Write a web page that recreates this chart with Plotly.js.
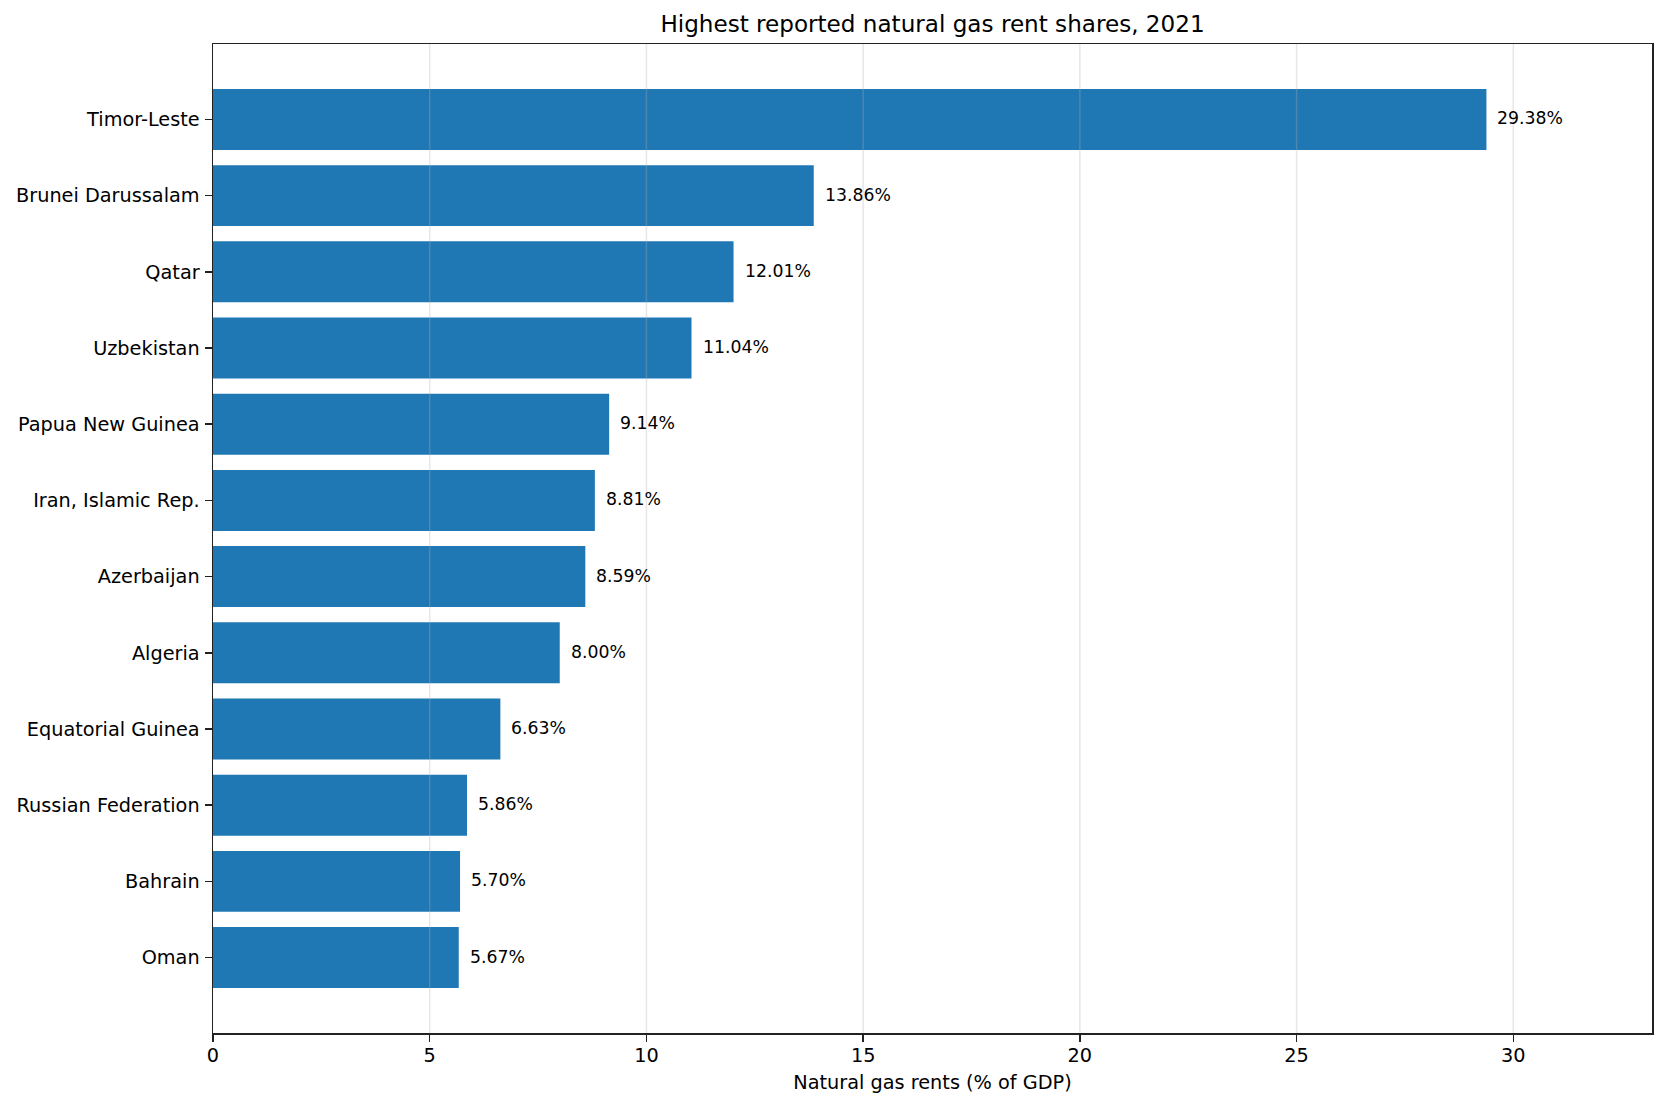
<!DOCTYPE html>
<html>
<head>
<meta charset="utf-8">
<script src="https://cdn.plot.ly/plotly-3.0.1.min.js"></script>
<style>
  html, body { margin: 0; padding: 0; background: #fff; }
  #chart { width: 1665px; height: 1106px; }
</style>
</head>
<body>
<div id="chart"></div>
<script>
'use strict';

// Countries, top to bottom
var countries = ['Timor-Leste', 'Brunei Darussalam', 'Qatar', 'Uzbekistan',
    'Papua New Guinea', 'Iran, Islamic Rep.', 'Azerbaijan', 'Algeria',
    'Equatorial Guinea', 'Russian Federation', 'Bahrain', 'Oman'];
var rents = [29.38, 13.86, 12.01, 11.04, 9.14, 8.81, 8.59, 8.00, 6.63, 5.86, 5.70, 5.67];
var xTicks = [0, 5, 10, 15, 20, 25, 30];

var font = 'DejaVu Sans, sans-serif';

var traces = [{
    type: 'bar',
    orientation: 'h',
    x: rents,
    y: countries,
    width: 0.8,
    marker: { color: '#1f77b4', line: { width: 0 } },
    hoverinfo: 'none'
}];

// value labels just right of each bar
var annotations = rents.map(function (v, i) {
    return {
        x: v, y: countries[i], xref: 'x', yref: 'y',
        text: v.toFixed(2) + '%',
        showarrow: false, xanchor: 'left', xshift: 9, yshift: 1,
        font: { family: font, size: 17.3, color: '#000' }
    };
});

// grid drawn over the bars, like matplotlib's default
var shapes = xTicks.slice(1).map(function (t) {
    return {
        type: 'line', xref: 'x', yref: 'paper', x0: t, x1: t, y0: 0, y1: 1,
        layer: 'above', line: { color: 'rgba(176,176,176,0.3)', width: 1.5 }
    };
});

Plotly.newPlot('chart', traces, {
    width: 1665,
    height: 1106,
    paper_bgcolor: '#fff',
    plot_bgcolor: '#fff',
    font: { family: font, size: 19.3, color: '#000' },
    title: {
        text: 'Highest reported natural gas rent shares, 2021',
        font: { family: font, size: 23.1, color: '#000' },
        x: 0.5, xref: 'paper', xanchor: 'center',
        y: 1 - 24 / 1106, yanchor: 'middle'
    },
    margin: { l: 213, r: 13, t: 44, b: 73 },
    bargap: 0.2,
    showlegend: false,
    xaxis: {
        range: [0, 33.2],
        tickvals: xTicks,
        ticks: 'outside', ticklen: 7, tickwidth: 1.5, tickcolor: '#222',
        showgrid: false,
        zeroline: false,
        showline: true, mirror: true, linecolor: '#222', linewidth: 1.5,
        tickfont: { family: font, size: 19.3, color: '#000' },
        ticklabelstandoff: -3,
        title: { text: 'Natural gas rents (% of GDP)', font: { family: font, size: 19.3, color: '#000' }, standoff: 10 }
    },
    yaxis: {
        type: 'category',
        categoryorder: 'array',
        categoryarray: countries,
        range: [11.99, -0.99],
        ticks: 'outside', ticklen: 7, tickwidth: 1.5, tickcolor: '#222',
        showgrid: false,
        zeroline: false,
        showline: true, mirror: true, linecolor: '#222', linewidth: 1.5,
        tickfont: { family: font, size: 19.3, color: '#000' },
        ticklabelstandoff: 1
    },
    annotations: annotations,
    shapes: shapes
}, { displayModeBar: false, staticPlot: true });
</script>
</body>
</html>
